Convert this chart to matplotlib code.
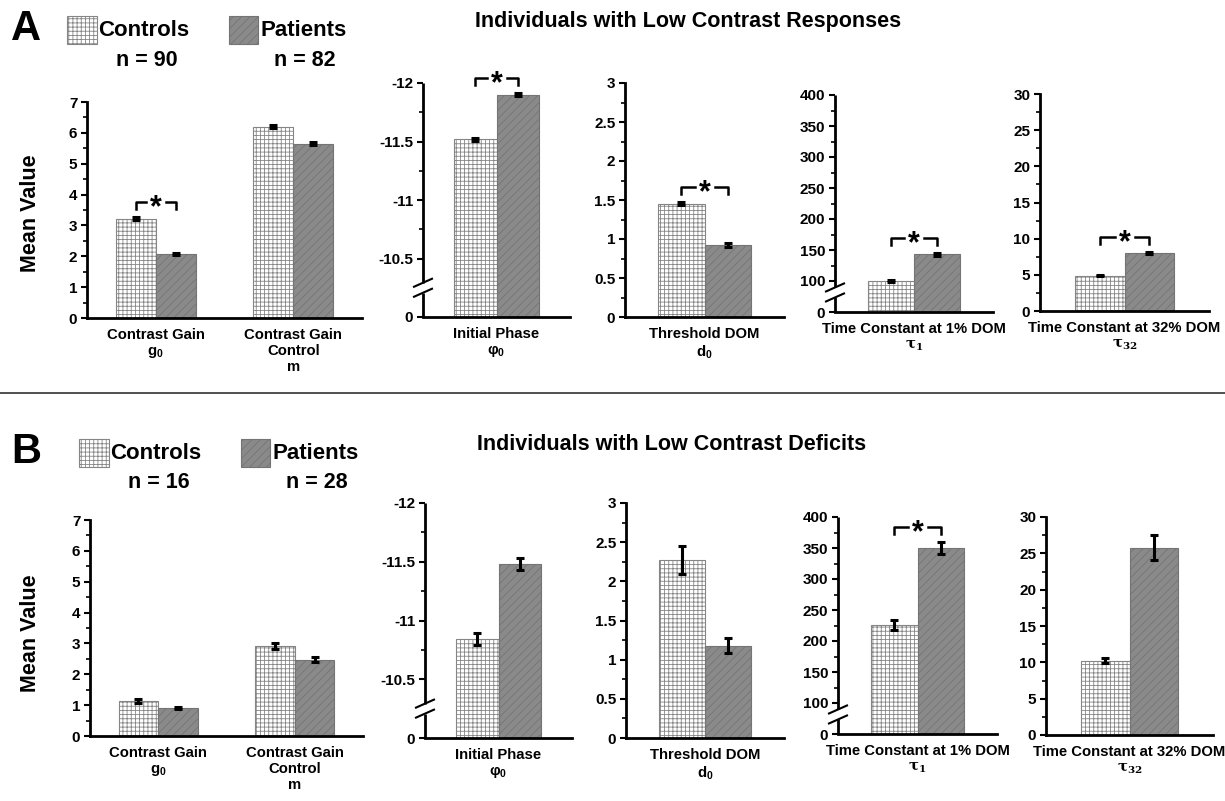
import matplotlib
matplotlib.use('Agg')
import matplotlib.pyplot as plt
from matplotlib.patches import Rectangle
from matplotlib.lines import Line2D
from matplotlib.ticker import FixedLocator

plt.rcParams['font.family'] = ['Liberation Sans', 'DejaVu Sans']
plt.rcParams['font.weight'] = 'bold'
plt.rcParams['axes.unicode_minus'] = False
plt.rcParams['hatch.linewidth'] = 0.6
plt.rcParams['mathtext.fontset'] = 'custom'
plt.rcParams['mathtext.rm'] = 'Liberation Sans:bold'
plt.rcParams['mathtext.bf'] = 'Liberation Sans:bold'
plt.rcParams['mathtext.it'] = 'Liberation Sans:bold'

# ---- data ----
gain_labels = ['Contrast Gain\ng$_0$', 'Contrast Gain\nControl\nm']
phase_label = 'Initial Phase\nφ$_0$'
dom_label = 'Threshold DOM\nd$_0$'
tau1_label = 'Time Constant at 1% DOM\n$\\mathbf{\\tau_1}$'
tau32_label = 'Time Constant at 32% DOM\n$\\mathbf{\\tau_{32}}$'

# panel A : low contrast responses
a_n = [90, 82]
a_gain_ctrl = [3.22, 6.20]
a_gain_ctrl_err = [0.04, 0.05]
a_gain_pat = [2.07, 5.65]
a_gain_pat_err = [0.03, 0.05]
a_phase = [-11.52, -11.90]
a_phase_err = [0.012, 0.012]
a_dom = [1.45, 0.92]
a_dom_err = [0.02, 0.025]
a_tau1 = [100, 143]
a_tau1_err = [1.5, 2.0]
a_tau32 = [4.9, 8.0]
a_tau32_err = [0.1, 0.18]

# panel B : low contrast deficits
b_n = [16, 28]
b_gain_ctrl = [1.13, 2.93]
b_gain_ctrl_err = [0.07, 0.10]
b_gain_pat = [0.90, 2.47]
b_gain_pat_err = [0.04, 0.08]
b_phase = [-10.84, -11.48]
b_phase_err = [0.05, 0.05]
b_dom = [2.27, 1.18]
b_dom_err = [0.18, 0.10]
b_tau1 = [226, 350]
b_tau1_err = [8, 10]
b_tau32 = [10.2, 25.8]
b_tau32_err = [0.35, 1.7]

W, H = 1225, 801
fig = plt.figure(figsize=(W / 100, H / 100), dpi=100)

ctrl_style = dict(facecolor='white', edgecolor='#858585', hatch='++++', linewidth=0.8)
pat_style = dict(facecolor='#8a8a8a', edgecolor='#747474', hatch='////', linewidth=0.8)
BW = 0.29


def add_ax(l, t, r, b):
    return fig.add_axes([l / W, 1 - b / H, (r - l) / W, (b - t) / H])


def style(ax, ylim, major, minor, labels=None, brk=None):
    ax.set_ylim(*ylim)
    ax.yaxis.set_major_locator(FixedLocator(major))
    ax.yaxis.set_minor_locator(FixedLocator(minor))
    if labels is not None:
        ax.set_yticklabels(labels)
    for s in ['top', 'right']:
        ax.spines[s].set_visible(False)
    ax.spines['bottom'].set_linewidth(2)
    ax.spines['left'].set_linewidth(2)
    ax.tick_params(axis='y', which='major', direction='out', length=4, width=1.5,
                   labelsize=11, pad=3)
    ax.tick_params(axis='y', which='minor', direction='out', length=3, width=1.2)
    ax.tick_params(axis='x', length=0, labelsize=10.7, pad=7)
    if brk is not None:
        ax.spines['left'].set_visible(False)
        bb = ax.get_position()
        wpx, hpx = bb.width * W, bb.height * H
        g = 5 / hpx
        ax.add_line(Line2D([0, 0], [0, brk - g], transform=ax.transAxes, color='black',
                           lw=2, clip_on=False, solid_capstyle='butt'))
        ax.add_line(Line2D([0, 0], [brk + g, 1], transform=ax.transAxes, color='black',
                           lw=2, clip_on=False, solid_capstyle='butt'))
        dx, dy = 9 / wpx, 4 / hpx
        for yy in (brk - g, brk + g):
            ax.add_line(Line2D([-dx, dx], [yy - dy, yy + dy], transform=ax.transAxes,
                               color='black', lw=1.5, clip_on=False))


def pair(ax, xc, vals, errs, base):
    xs = [xc - BW / 2, xc + BW / 2]
    for x, v, e, st in zip(xs, vals, errs, [ctrl_style, pat_style]):
        ax.bar(x, v - base, bottom=base, width=BW, **st)
        ax.errorbar(x, v, yerr=e, fmt='none', ecolor='black', elinewidth=2.2,
                    capsize=3, capthick=2.2)
    return xs


def bracket(ax, xs, vals, errs):
    tops = []
    for x, v, e in zip(xs, vals, errs):
        for yy in (v - e, v + e):
            tops.append(ax.transData.transform((x, yy))[1])
    ytop = max(tops) + 15
    p1 = ax.transData.transform((xs[0], 0))[0]
    p2 = ax.transData.transform((xs[1], 0))[0]
    pm = (p1 + p2) / 2
    inv = ax.transData.inverted()
    segs = [[(p1, ytop - 7), (p1, ytop), (pm - 10, ytop)],
            [(pm + 10, ytop), (p2, ytop), (p2, ytop - 7)]]
    for seg in segs:
        pts = inv.transform(seg)
        ax.plot(pts[:, 0], pts[:, 1], color='black', lw=1.8, clip_on=False)
    xm, ym = inv.transform((pm, ytop - 6))
    ax.text(xm, ym, '*', ha='center', va='center', fontsize=22, clip_on=False)


def single(ax, vals, errs, base, label, star):
    ax.set_xlim(0, 1)
    xs = pair(ax, 0.5, vals, errs, base)
    ax.set_xticks([0.5])
    ax.set_xticklabels([label])
    if star:
        bracket(ax, xs, vals, errs)


def row(boxes, gctrl, gctrl_e, gpat, gpat_e, phase, phase_e, dom, dom_e,
        t1, t1_e, t32, t32_e, stars):
    ax = add_ax(*boxes[0])
    style(ax, (0, 7), range(0, 8), [i + 0.5 for i in range(7)])
    ax.set_xlim(0, 2)
    for k in range(2):
        xs = pair(ax, 0.5 + k, [gctrl[k], gpat[k]], [gctrl_e[k], gpat_e[k]], 0)
        if stars[0][k]:
            bracket(ax, xs, [gctrl[k], gpat[k]], [gctrl_e[k], gpat_e[k]])
    ax.set_xticks([0.5, 1.5])
    ax.set_xticklabels(gain_labels)

    ax = add_ax(*boxes[1])
    style(ax, (-10, -12), [-12, -11.5, -11, -10.5, -10], [-11.75, -11.25, -10.75],
          ['-12', '-11.5', '-11', '-10.5', '0'], brk=0.125)
    single(ax, phase, phase_e, -10, phase_label, stars[1])

    ax = add_ax(*boxes[2])
    style(ax, (0, 3), [i * 0.5 for i in range(7)], [0.25 + i * 0.5 for i in range(6)],
          ['0', '0.5', '1', '1.5', '2', '2.5', '3'])
    single(ax, dom, dom_e, 0, dom_label, stars[2])

    ax = add_ax(*boxes[3])
    style(ax, (50, 400), [50, 100, 150, 200, 250, 300, 350, 400],
          [125, 175, 225, 275, 325, 375],
          ['0', '100', '150', '200', '250', '300', '350', '400'], brk=0.09)
    single(ax, t1, t1_e, 50, tau1_label, stars[3])
    ax.get_xticklabels()[0].set_math_fontfamily('dejavuserif')

    ax = add_ax(*boxes[4])
    style(ax, (0, 30), range(0, 31, 5), [2.5 + 5 * i for i in range(6)])
    single(ax, t32, t32_e, 0, tau32_label, stars[4])
    ax.get_xticklabels()[0].set_math_fontfamily('dejavuserif')


boxes_a = [(87, 102, 362, 318), (423, 83, 570, 317), (625, 83, 784, 317),
           (835, 95, 993, 312), (1040, 94, 1209, 311)]
boxes_b = [(90, 520, 363, 736), (425, 503, 572, 738), (626, 503, 784, 738),
           (838, 517, 997, 734), (1046, 517, 1213, 735)]

row(boxes_a, a_gain_ctrl, a_gain_ctrl_err, a_gain_pat, a_gain_pat_err, a_phase, a_phase_err,
    a_dom, a_dom_err, a_tau1, a_tau1_err, a_tau32, a_tau32_err,
    [[True, False], True, True, True, True])
row(boxes_b, b_gain_ctrl, b_gain_ctrl_err, b_gain_pat, b_gain_pat_err, b_phase, b_phase_err,
    b_dom, b_dom_err, b_tau1, b_tau1_err, b_tau32, b_tau32_err,
    [[False, False], False, False, True, False])


def header(letter, title, n, y0, title_x, ctrl_x, pat_x):
    fy = lambda y: 1 - y / H
    fig.text(11 / W, fy(y0 + 14), letter, fontsize=30, fontweight='heavy', va='center')
    fig.text(title_x / W, fy(y0 + 7), title, fontsize=15.5, ha='center', va='center')
    fig.add_artist(Rectangle((ctrl_x / W, fy(y0 + 29)), 30 / W, 28 / H,
                             transform=fig.transFigure, **ctrl_style))
    fig.add_artist(Rectangle((pat_x / W, fy(y0 + 29)), 29 / W, 28 / H,
                             transform=fig.transFigure, **pat_style))
    fig.text((ctrl_x + 31) / W, fy(y0 + 15), 'Controls', fontsize=16, va='center')
    fig.text((pat_x + 32) / W, fy(y0 + 15), 'Patients', fontsize=16, va='center')
    fig.text((ctrl_x + 80) / W, fy(y0 + 45), 'n = %d' % n[0], fontsize=15.5,
             ha='center', va='center')
    fig.text((pat_x + 76) / W, fy(y0 + 45), 'n = %d' % n[1], fontsize=15.5,
             ha='center', va='center')


header('A', 'Individuals with Low Contrast Responses', a_n, 15, 688, 67, 229)
header('B', 'Individuals with Low Contrast Deficits', b_n, 438, 672, 79, 241)

fig.text(30 / W, 1 - 213 / H, 'Mean Value', rotation=90, fontsize=15.5, ha='center', va='center')
fig.text(30 / W, 1 - 633 / H, 'Mean Value', rotation=90, fontsize=15.5, ha='center', va='center')
fig.add_artist(Line2D([0, 1], [1 - 393 / H] * 2, color='#333333', lw=1.2,
                      transform=fig.transFigure))

fig.savefig('out.png', dpi=100)
